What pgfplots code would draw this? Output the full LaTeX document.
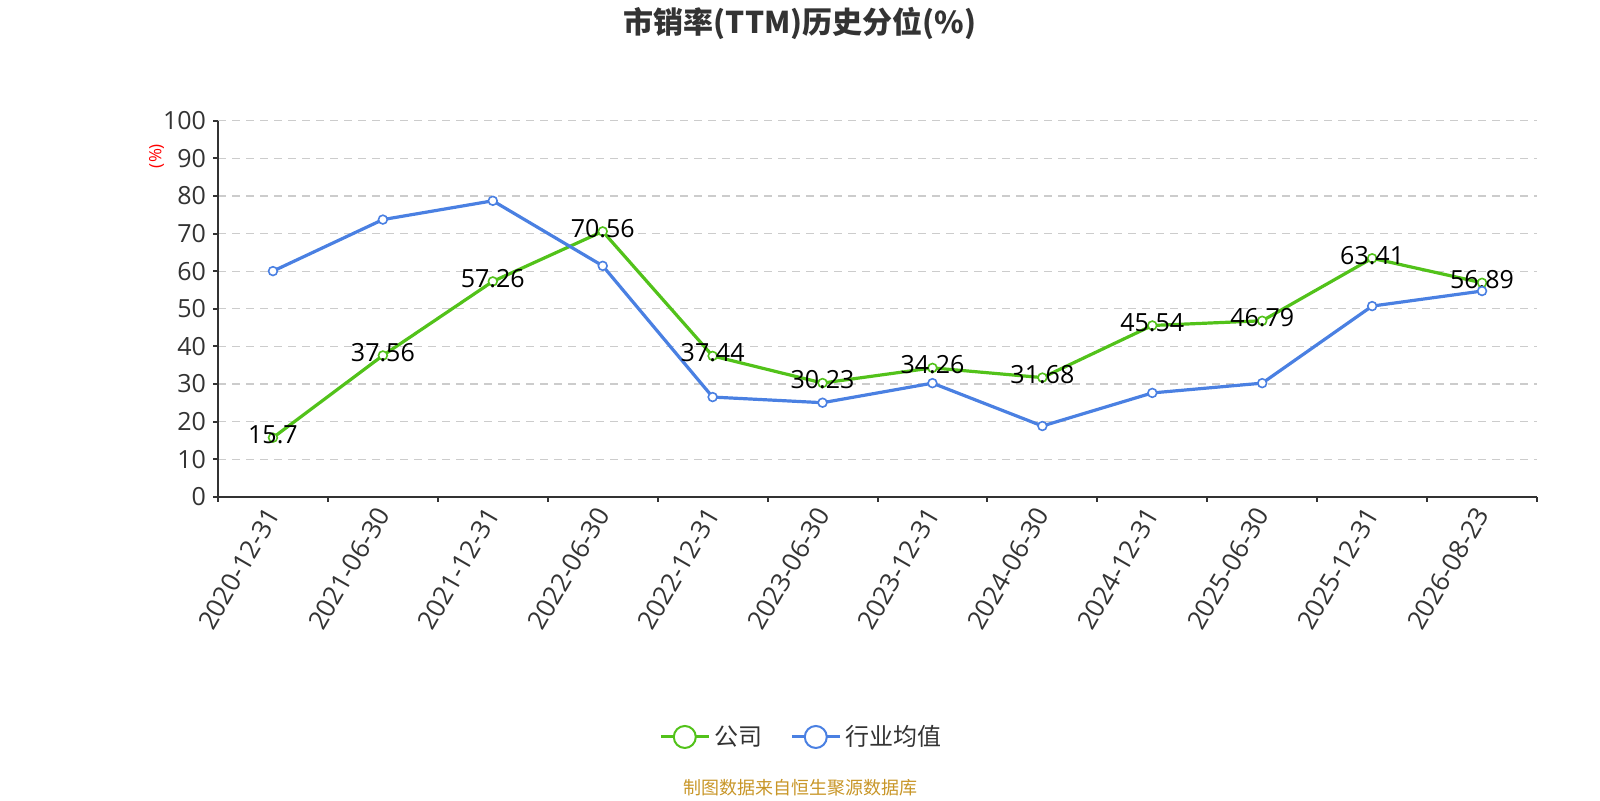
\documentclass[border=0pt]{standalone}
\usepackage{fontspec}
\usepackage{pgfplots}
\pgfplotsset{compat=1.18}
\setmainfont{Open Sans}
\newfontfamily\cjk{Noto Sans CJK SC}
\definecolor{cgreen}{RGB}{82,194,26}
\definecolor{cblue}{RGB}{74,128,226}
\definecolor{cdark}{RGB}{51,51,51}
\definecolor{cgrid}{RGB}{204,204,204}
\definecolor{csrc}{RGB}{200,150,40}
\begin{document}
\begin{tikzpicture}
\useasboundingbox (0,0) rectangle (800pt,400pt);
\begin{axis}[
  at={(109pt,151.65pt)}, anchor=south west,
  width=659.5pt, height=188pt, scale only axis,
  xmin=-0.5, xmax=11.5, ymin=0, ymax=100,
  clip=false,
  xtick={0,...,11},
  xticklabels={2020-12-31,2021-06-30,2021-12-31,2022-06-30,2022-12-31,2023-06-30,2023-12-31,2024-06-30,2024-12-31,2025-06-30,2025-12-31,2026-08-23},
  minor xtick={-0.5,0.5,...,11.5},
  ytick={0,10,...,100},
  axis x line=bottom, axis y line=left,
  axis line style={-, draw=cdark, line width=1pt},
  tick align=outside, major tick length=2.5pt, minor tick length=2.5pt,
  tick style={draw=cdark, line width=1pt},
  major x tick style={draw=none},
  ymajorgrids,
  grid style={draw=cgrid, line width=0.6pt, dash pattern=on 4pt off 3pt},
  /pgf/number format/assume math mode=true,
  ticklabel style={font=\fontsize{12.5}{14}\selectfont, text=cdark},
  xticklabel style={rotate=60, anchor=east, yshift=-2pt, font=\fontsize{13}{15}\selectfont},
  legend style={at={(0.443,-0.639)}, anchor=center, draw=none, fill=none,
    legend columns=2, font=\cjk\fontsize{12}{14}\selectfont, text=cdark,
    /tikz/every even column/.append style={column sep=12pt}},
]
\addplot[cgreen, line width=1.6pt, mark=*, mark size=2.2pt,
  mark options={fill=white, draw=cgreen, line width=0.8pt},
  point meta=explicit symbolic,
  nodes near coords={\pgfplotspointmeta},
  nodes near coords style={anchor=center, yshift=1.5pt, text=black, font=\fontsize{12.5}{14}\selectfont},
  legend image code/.code={\draw[cgreen, line width=1.5pt] (0pt,0pt) -- (24pt,0pt);
    \draw[cgreen, line width=1pt, fill=white] (12pt,0pt) circle (5.5pt);}
] coordinates {
(0,15.7)[15.7] (1,37.56)[37.56] (2,57.26)[57.26] (3,70.56)[70.56]
(4,37.44)[37.44] (5,30.23)[30.23] (6,34.26)[34.26] (7,31.68)[31.68]
(8,45.54)[45.54] (9,46.79)[46.79] (10,63.41)[63.41] (11,56.89)[56.89]
};
\addlegendentry{公司}
\addplot[cblue, line width=1.6pt, mark=*, mark size=2.2pt,
  mark options={fill=white, draw=cblue, line width=0.8pt},
  legend image code/.code={\draw[cblue, line width=1.5pt] (0pt,0pt) -- (24pt,0pt);
    \draw[cblue, line width=1pt, fill=white] (12pt,0pt) circle (5.5pt);}
] coordinates {
(0,60.0) (1,73.7) (2,78.7) (3,61.4) (4,26.5) (5,25.0)
(6,30.2) (7,18.8) (8,27.6) (9,30.2) (10,50.7) (11,54.7)
};
\addlegendentry{行业均值}
\end{axis}
\node[font=\cjk\bfseries\fontsize{15}{17}\selectfont, text=cdark] at (400pt,388.5pt) {市销率(TTM)历史分位(\%)};
\node[font=\fontsize{8.5}{10}\selectfont, text=red, rotate=90] at (78.3pt,322pt) {(\%)};
\node[font=\cjk\fontsize{9}{11}\selectfont, text=csrc] at (400pt,6pt) {制图数据来自恒生聚源数据库};
\end{tikzpicture}
\end{document}
